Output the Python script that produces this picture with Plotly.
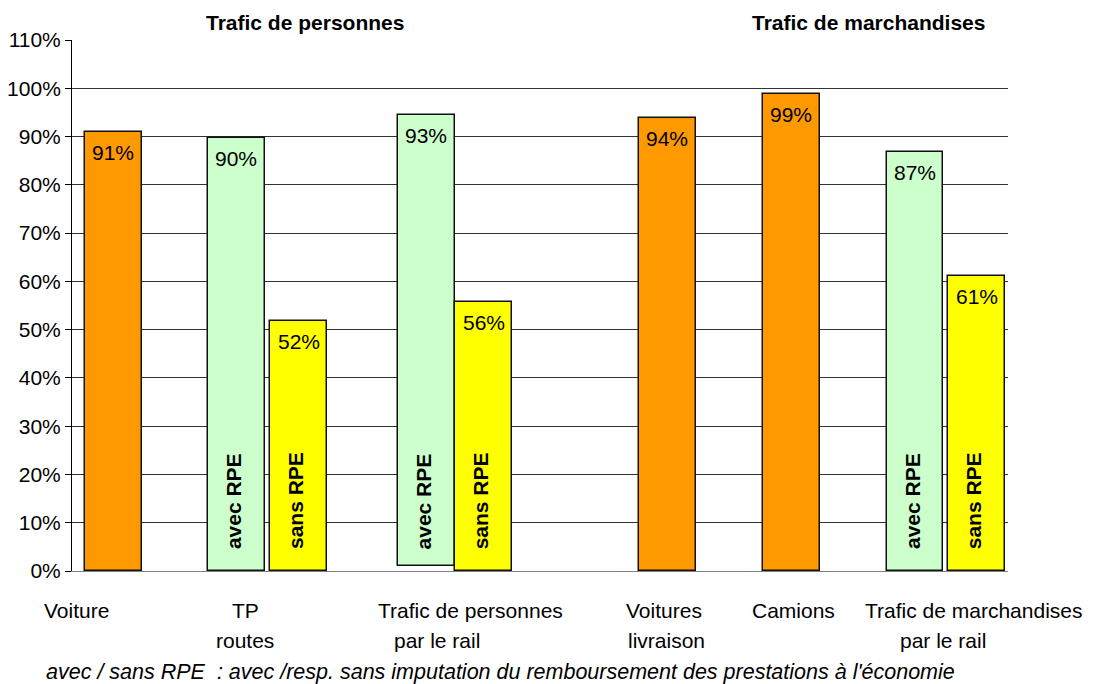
"""Bar chart: taux de couverture des coûts par mode de transport."""

import plotly.graph_objects as go

# Data (percent)
orange_names = ["Voiture", "Voitures livraison", "Camions"]
orange_values = [91.0, 93.9, 98.8]

green_names = ["TP routes avec RPE", "Rail personnes avec RPE",
               "Rail marchandises avec RPE"]
green_values = [89.7, 93.4, 86.8]
green_bases = [0.0, 1.1, 0.0]

yellow_names = ["TP routes sans RPE", "Rail personnes sans RPE",
                "Rail marchandises sans RPE"]
yellow_values = [51.8, 55.7, 61.1]

category_line1 = ["Voiture", "TP", "Trafic de personnes", "Voitures",
                  "Camions", "Trafic de marchandises"]
category_line2 = ["", "routes", "par le rail", "livraison", "", "par le rail"]

group_titles = ["Trafic de personnes", "Trafic de marchandises"]
y_ticks = list(range(0, 111, 10))
footnote = ("avec / sans RPE  : avec /resp. sans imputation du "
            "remboursement des prestations à l'économie")

# Layout positions (slot units on the x axis)
orange_x = [0.66, 9.54, 11.53]
green_x = [2.63, 5.68, 13.51]
yellow_x = [3.63, 6.60, 14.50]
line1_x = [0.08, 2.78, 6.38, 9.49, 11.57, 14.45]
line2_x = [0.08, 2.78, 5.85, 9.53, 11.57, 13.96]
title_x = [3.73, 12.76]

FONT = "Liberation Sans, Arial, sans-serif"
FS = 21
BAR_W = 0.91
OUTLINE = dict(color="#111111", width=1.5)

fig = go.Figure()
fig.add_trace(go.Bar(x=orange_x, y=orange_values, width=BAR_W,
                     marker=dict(color="#FF9900", line=OUTLINE),
                     hovertext=orange_names, showlegend=False))
fig.add_trace(go.Bar(x=green_x, y=green_values, base=green_bases,
                     width=BAR_W,
                     marker=dict(color="#CCFFCC", line=OUTLINE),
                     hovertext=green_names, showlegend=False))
fig.add_trace(go.Bar(x=yellow_x, y=yellow_values, width=BAR_W,
                     marker=dict(color="#FFFF00", line=OUTLINE),
                     hovertext=yellow_names, showlegend=False))

annotations = []

# Value labels inside the top of each bar
tops = [(x, v, 0.0) for x, v in zip(orange_x, orange_values)]
tops += list(zip(green_x, green_values, green_bases))
tops += [(x, v, 0.0) for x, v in zip(yellow_x, yellow_values)]
for x, v, b in tops:
    annotations.append(dict(
        x=x, y=v + b, xref="x", yref="y", text=f"{round(v)}%",
        showarrow=False, yanchor="top", yshift=-7,
        font=dict(family=FONT, size=FS, color="#000000")))

# Rotated "avec RPE" / "sans RPE" labels
for xs, label in [(green_x, "avec RPE"), (yellow_x, "sans RPE")]:
    for x in xs:
        annotations.append(dict(
            x=x, y=0, xref="x", yref="y", text=f"<b>{label}</b>",
            textangle=-90, showarrow=False, yanchor="bottom", yshift=20,
            xshift=-3,
            font=dict(family=FONT, size=FS, color="#000000")))

# Category labels under the plot (two lines)
for x, t in zip(line1_x, category_line1):
    annotations.append(dict(
        x=x, y=0, xref="x", yref="paper", text=t, showarrow=False,
        yanchor="middle", yshift=-39,
        font=dict(family=FONT, size=FS, color="#000000")))
for x, t in zip(line2_x, category_line2):
    if t:
        annotations.append(dict(
            x=x, y=0, xref="x", yref="paper", text=t, showarrow=False,
            yanchor="middle", yshift=-69,
            font=dict(family=FONT, size=FS, color="#000000")))

# Group titles
for x, t in zip(title_x, group_titles):
    annotations.append(dict(
        x=x, y=1, xref="x", yref="paper", text=f"<b>{t}</b>",
        showarrow=False, yanchor="middle", yshift=18,
        font=dict(family=FONT, size=FS, color="#000000")))

# Footnote
annotations.append(dict(
    x=(500 - 72) / 936, y=0, xref="paper", yref="paper",
    text=f"<i>{footnote}</i>", showarrow=False, yanchor="middle",
    yshift=-101, font=dict(family=FONT, size=21.5, color="#000000")))

# the page body adds an 8px offset, so the figure is shifted to compensate
fig.update_layout(
    width=1088, height=676,
    margin=dict(l=64, r=88, t=32, b=113),
    paper_bgcolor="white", plot_bgcolor="white",
    bargap=0, barmode="overlay",
    font=dict(family=FONT, size=FS, color="#000000"),
    annotations=annotations,
    xaxis=dict(range=[0, 15], showgrid=False, showticklabels=False,
               ticks="", zeroline=False, showline=True,
               linecolor="#808080", linewidth=1, fixedrange=True,
               automargin=False),
    yaxis=dict(range=[0, 110], tickvals=y_ticks,
               ticktext=[f"{v}%" for v in y_ticks],
               showgrid=True, gridcolor="#333333", gridwidth=1,
               zeroline=False, showline=True, linecolor="#000000",
               linewidth=1, ticks="outside", ticklen=6,
               tickcolor="#000000", tickfont=dict(size=FS),
               fixedrange=True, automargin=False),
)

fig.write_html("out.html")
